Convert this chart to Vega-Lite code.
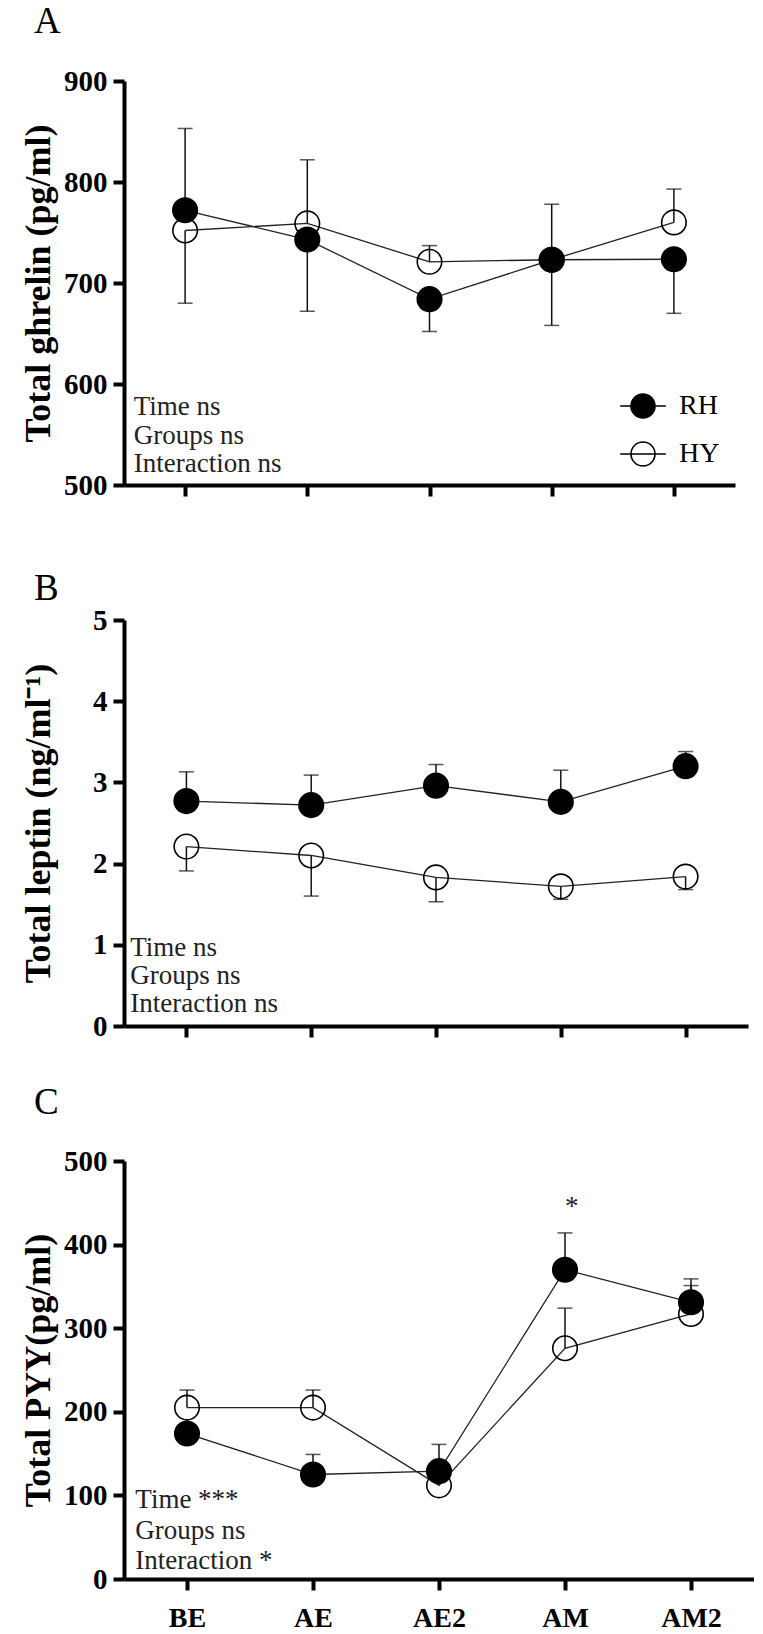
{
  "$schema": "https://vega.github.io/schema/vega-lite/v6.json",
  "background": "white",
  "autosize": {"type": "pad"},
  "padding": {"left": 20, "top": 3, "right": 0, "bottom": 0},
  "bounds": "flush",
  "spacing": 135,
  "config": {
    "view": {"stroke": null},
    "font": "Liberation Serif",
    "axis": {
      "grid": false,
      "domainColor": "black",
      "domainWidth": 4,
      "tickColor": "black",
      "tickWidth": 4,
      "tickSize": 11,
      "labelFont": "Liberation Serif",
      "labelFontWeight": "bold",
      "labelFontSize": 29,
      "labelColor": "black",
      "labelPadding": 6,
      "labelFlush": false,
      "labelOverlap": false,
      "titleFont": "Liberation Serif",
      "titleFontWeight": "bold",
      "titleFontSize": 36,
      "titleColor": "black"
    },
    "title": {"font": "Liberation Serif", "fontSize": 37, "fontWeight": "normal", "color": "black", "anchor": "start", "frame": "group"}
  },
  "resolve": {"scale": {"fill": "independent", "x": "independent", "y": "independent"}, "legend": {"fill": "independent"}},
  "datasets": {
    "A": [
      {"t": 1, "g": "HY", "m": 752, "e": 680},
      {"t": 2, "g": "HY", "m": 759, "e": 822},
      {"t": 3, "g": "HY", "m": 721, "e": 737},
      {"t": 4, "g": "HY", "m": 723, "e": 658},
      {"t": 5, "g": "HY", "m": 760, "e": 793},
      {"t": 1, "g": "RH", "m": 772, "e": 853},
      {"t": 2, "g": "RH", "m": 743, "e": 672},
      {"t": 3, "g": "RH", "m": 684, "e": 652},
      {"t": 4, "g": "RH", "m": 723, "e": 778},
      {"t": 5, "g": "RH", "m": 723.5, "e": 670}
    ],
    "B": [
      {"t": 1, "g": "HY", "m": 2.21, "e": 1.91},
      {"t": 2, "g": "HY", "m": 2.10, "e": 1.60},
      {"t": 3, "g": "HY", "m": 1.83, "e": 1.53},
      {"t": 4, "g": "HY", "m": 1.72, "e": 1.56},
      {"t": 5, "g": "HY", "m": 1.84, "e": 1.68},
      {"t": 1, "g": "RH", "m": 2.77, "e": 3.13},
      {"t": 2, "g": "RH", "m": 2.72, "e": 3.09},
      {"t": 3, "g": "RH", "m": 2.96, "e": 3.22},
      {"t": 4, "g": "RH", "m": 2.76, "e": 3.15},
      {"t": 5, "g": "RH", "m": 3.20, "e": 3.38}
    ],
    "C": [
      {"t": 1, "g": "HY", "m": 205, "e": 226},
      {"t": 2, "g": "HY", "m": 205, "e": 226},
      {"t": 3, "g": "HY", "m": 112, "e": null},
      {"t": 4, "g": "HY", "m": 276, "e": 324},
      {"t": 5, "g": "HY", "m": 317, "e": 351},
      {"t": 1, "g": "RH", "m": 174, "e": null},
      {"t": 2, "g": "RH", "m": 125, "e": 149},
      {"t": 3, "g": "RH", "m": 129, "e": 161},
      {"t": 4, "g": "RH", "m": 370, "e": 414},
      {"t": 5, "g": "RH", "m": 331, "e": 359}
    ],
    "Atxt": [
      {"x": 0.58, "y": 577, "label": "Time ns"},
      {"x": 0.58, "y": 549, "label": "Groups ns"},
      {"x": 0.58, "y": 521, "label": "Interaction ns"}
    ],
    "Btxt": [
      {"x": 0.55, "y": 0.96, "label": "Time ns"},
      {"x": 0.55, "y": 0.615, "label": "Groups ns"},
      {"x": 0.55, "y": 0.27, "label": "Interaction ns"}
    ],
    "Ctxt": [
      {"x": 0.59, "y": 95, "label": "Time ***"},
      {"x": 0.59, "y": 57, "label": "Groups ns"},
      {"x": 0.59, "y": 21.5, "label": "Interaction *"},
      {"x": 4, "y": 445, "label": "*"}
    ]
  },
  "vconcat": [
    {
      "width": 611,
      "height": 404,
      "title": {"text": "A", "dx": -90, "offset": 26},
      "layer": [
        {
          "data": {"name": "A"},
          "mark": {"type": "rule", "color": "#111", "strokeWidth": 1.5},
          "encoding": {
            "x": {"field": "t", "type": "quantitative", "scale": {"domain": [0.5, 5.5], "nice": false, "zero": false},
                  "axis": {"values": [1, 2, 3, 4, 5], "labels": false, "title": null}},
            "y": {"field": "m", "type": "quantitative", "scale": {"domain": [500, 900], "nice": false, "zero": false},
                  "axis": {"values": [500, 600, 700, 800, 900], "title": "Total ghrelin (pg/ml)", "titleAngle": 270, "titleBaseline": "middle", "titleAlign": "center", "titleX": -86, "titleY": 202}},
            "y2": {"field": "e"}
          }
        },
        {
          "data": {"name": "A"},
          "mark": {"type": "tick", "orient": "horizontal", "color": "#111", "size": 15, "thickness": 1.5},
          "encoding": {
            "x": {"field": "t", "type": "quantitative"},
            "y": {"field": "e", "type": "quantitative"}
          }
        },
        {
          "data": {"name": "A"},
          "mark": {"type": "line", "color": "#222", "strokeWidth": 1.3},
          "encoding": {
            "x": {"field": "t", "type": "quantitative"},
            "y": {"field": "m", "type": "quantitative"},
            "detail": {"field": "g", "type": "nominal"}
          }
        },
        {
          "data": {"name": "A"},
          "mark": {"type": "point", "shape": "circle", "filled": true, "opacity": 1, "size": 600, "stroke": "black", "strokeWidth": 1.6},
          "encoding": {
            "x": {"field": "t", "type": "quantitative"},
            "y": {"field": "m", "type": "quantitative"},
            "fill": {"field": "g", "type": "nominal", "scale": {"domain": ["RH", "HY"], "range": ["black", "transparent"]},
                     "legend": {"orient": "bottom-right", "offset": 15, "title": null, "padding": 0,
                                "symbolType": "M-1.9,0H1.9M1,0A1,1,0,1,1,-1,0A1,1,0,1,1,1,0Z", "symbolSize": 576,
                                "symbolStrokeColor": "black", "symbolStrokeWidth": 1.6,
                                "labelFont": "Liberation Serif", "labelFontSize": 28, "labelColor": "black",
                                "labelOffset": 22, "rowPadding": 16}}
          }
        },
        {
          "data": {"name": "Atxt"},
          "mark": {"type": "text", "align": "left", "baseline": "middle", "fontSize": 27, "font": "Liberation Serif", "color": "#222"},
          "encoding": {
            "x": {"field": "x", "type": "quantitative"},
            "y": {"field": "y", "type": "quantitative"},
            "text": {"field": "label"}
          }
        }
      ]
    },
    {
      "width": 624,
      "height": 406,
      "title": {"text": "B", "dx": -90, "offset": -2},
      "layer": [
        {
          "data": {"name": "B"},
          "mark": {"type": "rule", "color": "#111", "strokeWidth": 1.5},
          "encoding": {
            "x": {"field": "t", "type": "quantitative", "scale": {"domain": [0.5, 5.5], "nice": false, "zero": false},
                  "axis": {"values": [1, 2, 3, 4, 5], "labels": false, "title": null}},
            "y": {"field": "m", "type": "quantitative", "scale": {"domain": [0, 5], "nice": false, "zero": false},
                  "axis": {"values": [0, 1, 2, 3, 4, 5], "format": "d", "title": "Total leptin (ng/ml⁻¹)", "titleAngle": 270, "titleBaseline": "middle", "titleAlign": "center", "titleX": -86, "titleY": 203}},
            "y2": {"field": "e"}
          }
        },
        {
          "data": {"name": "B"},
          "mark": {"type": "tick", "orient": "horizontal", "color": "#111", "size": 15, "thickness": 1.5},
          "encoding": {
            "x": {"field": "t", "type": "quantitative"},
            "y": {"field": "e", "type": "quantitative"}
          }
        },
        {
          "data": {"name": "B"},
          "mark": {"type": "line", "color": "#222", "strokeWidth": 1.3},
          "encoding": {
            "x": {"field": "t", "type": "quantitative"},
            "y": {"field": "m", "type": "quantitative"},
            "detail": {"field": "g", "type": "nominal"}
          }
        },
        {
          "data": {"name": "B"},
          "mark": {"type": "point", "shape": "circle", "filled": true, "opacity": 1, "size": 600, "stroke": "black", "strokeWidth": 1.6},
          "encoding": {
            "x": {"field": "t", "type": "quantitative"},
            "y": {"field": "m", "type": "quantitative"},
            "fill": {"field": "g", "type": "nominal", "scale": {"domain": ["RH", "HY"], "range": ["black", "transparent"]}, "legend": null}
          }
        },
        {
          "data": {"name": "Btxt"},
          "mark": {"type": "text", "align": "left", "baseline": "middle", "fontSize": 27, "font": "Liberation Serif", "color": "#222"},
          "encoding": {
            "x": {"field": "x", "type": "quantitative"},
            "y": {"field": "y", "type": "quantitative"},
            "text": {"field": "label"}
          }
        }
      ]
    },
    {
      "width": 630,
      "height": 418,
      "title": {"text": "C", "dx": -90, "offset": 25},
      "layer": [
        {
          "data": {"name": "C"},
          "mark": {"type": "rule", "color": "#111", "strokeWidth": 1.5},
          "encoding": {
            "x": {"field": "t", "type": "quantitative", "scale": {"domain": [0.5, 5.5], "nice": false, "zero": false},
                  "axis": {"values": [1, 2, 3, 4, 5], "title": null, "labelFontSize": 28, "labelPadding": 14,
                           "labelExpr": "['', 'BE', 'AE', 'AE2', 'AM', 'AM2'][datum.value]"}},
            "y": {"field": "m", "type": "quantitative", "scale": {"domain": [0, 500], "nice": false, "zero": false},
                  "axis": {"values": [0, 100, 200, 300, 400, 500], "title": "Total PYY(pg/ml)", "titleAngle": 270, "titleBaseline": "middle", "titleAlign": "center", "titleX": -86, "titleY": 209}},
            "y2": {"field": "e"}
          }
        },
        {
          "data": {"name": "C"},
          "mark": {"type": "tick", "orient": "horizontal", "color": "#111", "size": 15, "thickness": 1.5},
          "encoding": {
            "x": {"field": "t", "type": "quantitative"},
            "y": {"field": "e", "type": "quantitative"}
          }
        },
        {
          "data": {"name": "C"},
          "mark": {"type": "line", "color": "#222", "strokeWidth": 1.3},
          "encoding": {
            "x": {"field": "t", "type": "quantitative"},
            "y": {"field": "m", "type": "quantitative"},
            "detail": {"field": "g", "type": "nominal"}
          }
        },
        {
          "data": {"name": "C"},
          "mark": {"type": "point", "shape": "circle", "filled": true, "opacity": 1, "size": 600, "stroke": "black", "strokeWidth": 1.6},
          "encoding": {
            "x": {"field": "t", "type": "quantitative"},
            "y": {"field": "m", "type": "quantitative"},
            "fill": {"field": "g", "type": "nominal", "scale": {"domain": ["RH", "HY"], "range": ["black", "transparent"]}, "legend": null}
          }
        },
        {
          "data": {"name": "Ctxt"},
          "mark": {"type": "text", "align": "left", "baseline": "middle", "fontSize": 27, "font": "Liberation Serif", "color": "#222"},
          "encoding": {
            "x": {"field": "x", "type": "quantitative"},
            "y": {"field": "y", "type": "quantitative"},
            "text": {"field": "label"}
          }
        }
      ]
    }
  ]
}
